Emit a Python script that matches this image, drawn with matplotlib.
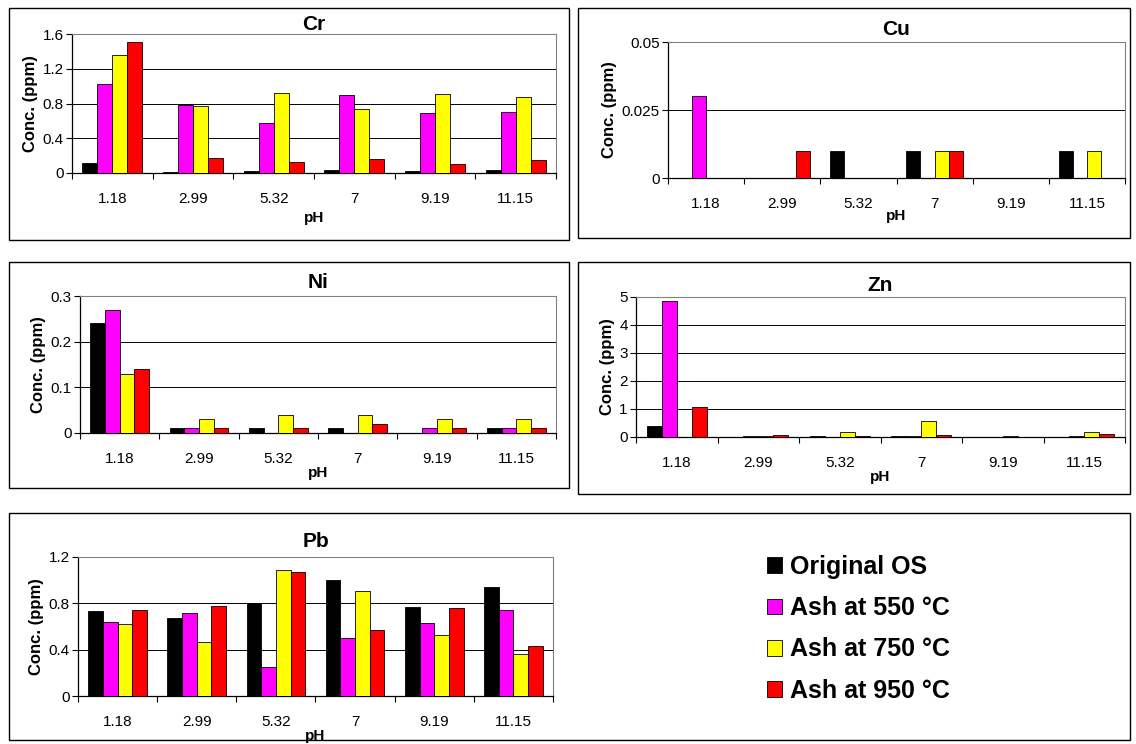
import matplotlib
matplotlib.use("Agg")
import matplotlib.pyplot as plt
from matplotlib.patches import Rectangle
import numpy as np

plt.rcParams['font.family'] = ['Liberation Sans', 'DejaVu Sans']

# pH categories and series names
ph_labels = ['1.18', '2.99', '5.32', '7', '9.19', '11.15']
series = ['Original OS', 'Ash at 550 °C', 'Ash at 750 °C', 'Ash at 950 °C']
colors = ['#000000', '#FF00FF', '#FFFF00', '#FF0000']

# concentrations (ppm) per metal, one list per series
cr_orig = [0.11, 0.01, 0.02, 0.03, 0.02, 0.03]
cr_550 = [1.03, 0.78, 0.57, 0.90, 0.69, 0.70]
cr_750 = [1.36, 0.77, 0.92, 0.74, 0.91, 0.87]
cr_950 = [1.51, 0.17, 0.13, 0.16, 0.10, 0.15]

cu_orig = [0.0, 0.0, 0.01, 0.01, 0.0, 0.01]
cu_550 = [0.03, 0.0, 0.0, 0.0, 0.0, 0.0]
cu_750 = [0.0, 0.0, 0.0, 0.01, 0.0, 0.01]
cu_950 = [0.0, 0.01, 0.0, 0.01, 0.0, 0.0]

ni_orig = [0.24, 0.01, 0.01, 0.01, 0.0, 0.01]
ni_550 = [0.27, 0.01, 0.0, 0.0, 0.01, 0.01]
ni_750 = [0.13, 0.03, 0.04, 0.04, 0.03, 0.03]
ni_950 = [0.14, 0.01, 0.01, 0.02, 0.01, 0.01]

zn_orig = [0.38, 0.0, 0.02, 0.02, 0.0, 0.0]
zn_550 = [4.85, 0.02, 0.0, 0.05, 0.0, 0.02]
zn_750 = [0.0, 0.05, 0.18, 0.57, 0.05, 0.18]
zn_950 = [1.07, 0.08, 0.02, 0.08, 0.0, 0.09]

pb_orig = [0.73, 0.67, 0.80, 1.00, 0.77, 0.94]
pb_550 = [0.64, 0.72, 0.25, 0.50, 0.63, 0.74]
pb_750 = [0.62, 0.47, 1.09, 0.91, 0.53, 0.36]
pb_950 = [0.74, 0.78, 1.07, 0.57, 0.76, 0.43]

W, H = 1136, 744
fig = plt.figure(figsize=(W / 100, H / 100), dpi=100)


def px_axes(left, top, right, bottom):
    return fig.add_axes([left / W, 1 - bottom / H, (right - left) / W, (bottom - top) / H])


def box(left, top, right, bottom):
    fig.patches.append(Rectangle((left / W, 1 - bottom / H), (right - left) / W, (bottom - top) / H,
                                 transform=fig.transFigure, fill=False, edgecolor='black',
                                 linewidth=1.0, zorder=0))


def panel(ax, name, data, ymax, step, title_pad=4, xlab_pad=0):
    x = np.arange(len(ph_labels))
    w = 0.185
    bars = []
    for i, vals in enumerate(data):
        b = ax.bar(x + (i - 1.5) * w, vals, w, color=colors[i], edgecolor='black',
                   linewidth=0.6, zorder=3, label=series[i])
        bars.append(b)
    ax.set_xlim(-0.5, len(ph_labels) - 0.5)
    ax.set_ylim(0, ymax)
    yt = np.arange(0, ymax + step / 2, step)
    ax.set_yticks(yt)
    ax.set_yticklabels(['0' if v == 0 else '%g' % round(v, 4) for v in yt])
    ax.set_xticks(x)
    ax.set_xticklabels(ph_labels)
    ax.set_xticks(np.arange(-0.5, len(ph_labels)), minor=True)
    ax.tick_params(axis='x', which='major', length=0, labelsize=11, pad=14)
    ax.tick_params(axis='x', which='minor', length=4, width=0.8, direction='out')
    ax.tick_params(axis='y', length=4, width=0.8, labelsize=11, pad=2)
    ax.yaxis.grid(True, color='black', linewidth=0.7, zorder=0)
    ax.set_axisbelow(True)
    for s in ['left', 'bottom']:
        ax.spines[s].set_linewidth(0.9)
    ax.spines['right'].set_color('#808080')
    ax.spines['top'].set_color('#808080')
    ax.set_title(name, fontsize=15, fontweight='bold', pad=title_pad)
    ax.set_xlabel('pH', fontsize=11, fontweight='bold', labelpad=xlab_pad)
    ax.set_ylabel('Conc. (ppm)', fontsize=12, fontweight='bold', labelpad=3)
    return bars


# panel frames
box(9, 8, 569, 240)
box(578, 8, 1130, 238)
box(9, 262, 569, 488)
box(578, 262, 1130, 494)
box(9, 513, 1130, 740)

ax_cr = px_axes(72, 34, 556, 173)
panel(ax_cr, 'Cr', [cr_orig, cr_550, cr_750, cr_950], 1.6, 0.4, title_pad=3, xlab_pad=3)

ax_cu = px_axes(668, 42, 1125, 178)
panel(ax_cu, 'Cu', [cu_orig, cu_550, cu_750, cu_950], 0.05, 0.025, title_pad=5, xlab_pad=-2)

ax_ni = px_axes(80, 296, 556, 433)
panel(ax_ni, 'Ni', [ni_orig, ni_550, ni_750, ni_950], 0.3, 0.1, title_pad=6)

ax_zn = px_axes(636, 297, 1125, 437)
panel(ax_zn, 'Zn', [zn_orig, zn_550, zn_750, zn_950], 5, 1, title_pad=4)

ax_pb = px_axes(78, 557, 553, 696)
pb_bars = panel(ax_pb, 'Pb', [pb_orig, pb_550, pb_750, pb_950], 1.2, 0.4, title_pad=7)

leg = fig.legend(handles=pb_bars, labels=series, loc='upper left',
                 bbox_to_anchor=(767 / W, 1 - 555 / H), frameon=False,
                 borderaxespad=0, borderpad=0,
                 prop={'size': 18, 'weight': 'bold'}, handlelength=0.6,
                 handleheight=0.6, handletextpad=0.3, labelspacing=0.69)

fig.savefig('out.png', dpi=100)
